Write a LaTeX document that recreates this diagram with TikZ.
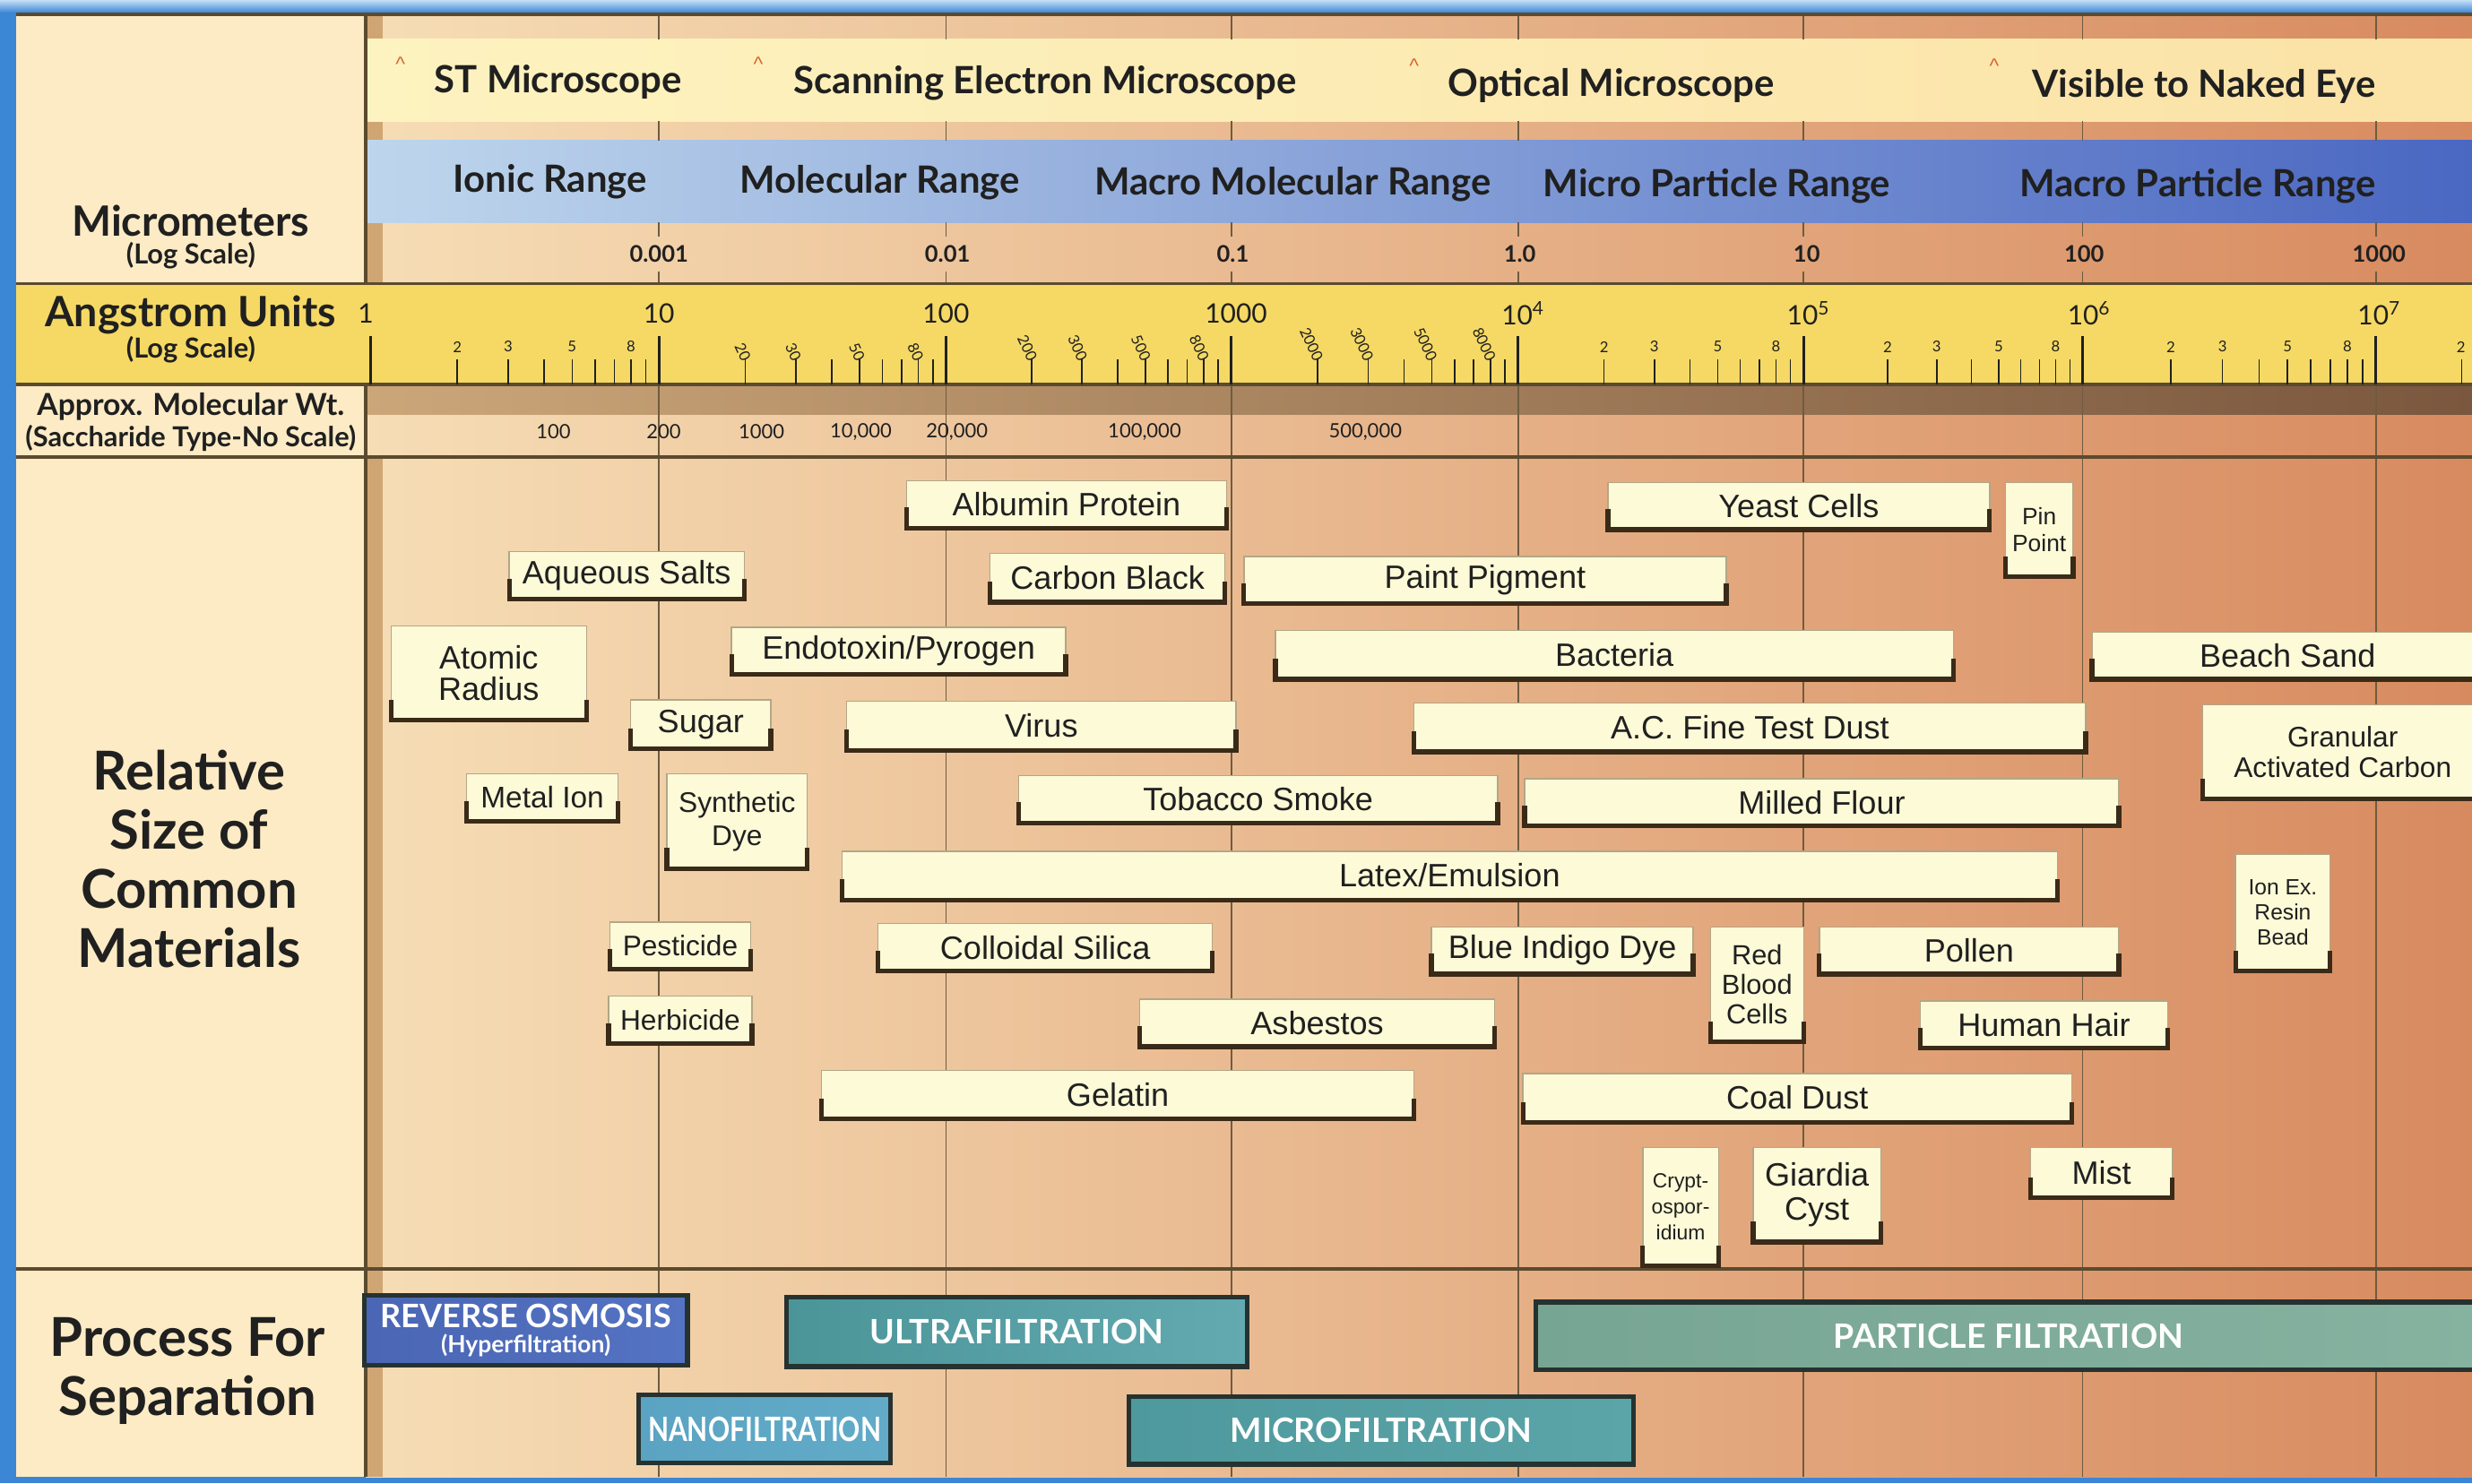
\documentclass[tikz,border=0pt]{standalone}
\usepackage{fontspec}
\usepackage{graphicx}
\setmainfont{Liberation Sans}
\newfontfamily\hf{Lato}
\usetikzlibrary{calc}
\definecolor{frameb}{HTML}{3C86D6}
\definecolor{framelt}{HTML}{C4DFF5}
\definecolor{leftcol}{HTML}{FCEBC5}
\definecolor{bgL}{HTML}{F6DDB5}
\definecolor{bgR}{HTML}{D88A5F}
\definecolor{tanc}{HTML}{CFA673}
\definecolor{micL}{HTML}{FDF3C0}
\definecolor{micR}{HTML}{FBE2A6}
\definecolor{bluL}{HTML}{BED6EC}
\definecolor{bluR}{HTML}{4A67C2}
\definecolor{angY}{HTML}{F5D964}
\definecolor{brL}{HTML}{CBA679}
\definecolor{brR}{HTML}{7A573E}
\definecolor{linec}{HTML}{5B4A2E}
\definecolor{gridc}{HTML}{6E5C40}
\definecolor{boxfill}{HTML}{FCFAD7}
\definecolor{boxedge}{HTML}{B3A686}
\definecolor{boxshadow}{HTML}{3A2A18}
\definecolor{caretc}{HTML}{D9652F}
\definecolor{txt}{HTML}{202020}
\definecolor{procedge}{HTML}{263230}
\definecolor{roL}{HTML}{4A66B4}\definecolor{roR}{HTML}{5473C2}
\definecolor{ufL}{HTML}{4B9498}\definecolor{ufR}{HTML}{62AAB0}
\definecolor{nfL}{HTML}{5AA3C2}\definecolor{nfR}{HTML}{62ABC8}
\definecolor{mfL}{HTML}{4E999D}\definecolor{mfR}{HTML}{5BA5A9}
\definecolor{pfL}{HTML}{77A594}\definecolor{pfR}{HTML}{86B2A0}
\newcommand\fA{\fontsize{20.5}{22}\selectfont}
\newcommand\matb[7]{%
  \node[matnode,font=#6,minimum width={(#4-#2)*1pt},minimum height={(#5-#3)*1pt},anchor=north west] (#1) at (#2,#3) {#7};
  \draw[matshadow] ([yshift=13pt]#1.south west) -- (#1.south west) -- (#1.south east) -- ([yshift=13pt]#1.south east);
}
\begin{document}
\begin{tikzpicture}[x=1pt,y=-1pt,
  matnode/.style={draw=boxedge,line width=0.8pt,fill=boxfill,inner sep=0pt,outer sep=0pt,align=center,text=txt},
  matshadow/.style={draw=boxshadow,line width=3pt},
  grid/.style={draw=gridc,line width=0.9pt},
  hline/.style={draw=linec,line width=2pt},
  majortick/.style={draw=txt,line width=1.6pt},
  minortick/.style={draw=txt,line width=0.9pt},
  lhead/.style={font=\hf\bfseries\fontsize{26.5}{28}\selectfont,text=txt,align=center},
  lsub/.style={font=\hf\bfseries\fontsize{17.5}{18}\selectfont,text=txt},
  bighead/.style={font=\hf\bfseries\fontsize{34}{37.5}\selectfont,text=txt,align=center},
  bandtxt/.style={font=\hf\bfseries\fontsize{23.8}{25}\selectfont,text=txt},
  caret/.style={font=\fontsize{13}{13}\selectfont,text=caretc},
  umlab/.style={font=\hf\bfseries\fontsize{14.5}{15}\selectfont,text=txt},
  declab/.style={font=\hf\fontsize{17}{18}\selectfont,text=txt},
  ticklab/.style={font=\hf\fontsize{9.5}{10}\selectfont,text=txt,inner sep=0.5pt},
  mwlab/.style={font=\hf\fontsize{12.5}{13}\selectfont,text=txt},
  procnode/.style={draw=procedge,line width=3pt,inner sep=0pt,outer sep=0pt,text=white,align=center,anchor=north west,font=\hf\bfseries\fontsize{21.3}{23}\selectfont}]
\useasboundingbox (0,0) rectangle (1568,941);
% frame and backgrounds
\fill[frameb] (0,0) rectangle (1568,941);
\shade[top color=framelt,bottom color=frameb] (0,0) rectangle (1568,8);
\fill[leftcol] (10,9) rectangle (232,937);
\shade[left color=bgL,right color=bgR] (232,9) rectangle (1568,937);
\fill[tanc] (232,9) rectangle (243,180);
\fill[tanc] (232,290) rectangle (243,937);
\shade[left color=micL,right color=micR] (232,25) rectangle (1568,77);
\shade[left color=bluL,right color=bluR] (232,89) rectangle (1568,141);
\fill[angY] (10,180) rectangle (1568,244);
\shade[left color=brL,right color=brR] (232,244) rectangle (1568,263);
% grid lines
\foreach \x in {418,600,781,963,1144,1321,1507} {
  \draw[grid] (\x,9)--(\x,25) (\x,77)--(\x,89) (\x,141)--(\x,150) (\x,172)--(\x,180) (\x,244)--(\x,937);
}
% frame lines
\draw[hline] (10,9) -- (1568,9);
\draw[hline] (10,180) -- (1568,180);
\draw[hline] (10,244) -- (1568,244);
\draw[hline] (10,290) -- (1568,290);
\draw[hline] (10,805) -- (1568,805);
\draw[hline] (232,9) -- (232,180);
\draw[hline] (232,244) -- (232,937);
% left column headings
\node[lhead] (hmicro) at (121,140) {Micrometers};
\node[lsub] (hmicrosub) at (121,162) {(Log Scale)};
\node[lhead] (hang) at (121,200) {Angstrom Units};
\node[lsub] (hangsub) at (121,222) {(Log Scale)};
\node[lsub,font=\hf\bfseries\fontsize{19.2}{20}\selectfont] (hmw) at (121,258) {Approx. Molecular Wt.};
\node[lsub,font=\hf\bfseries\fontsize{17.5}{18}\selectfont] (hmwsub) at (121,278) {(Saccharide Type-No Scale)};
\node[bighead] (hrel) at (120,545) {Relative\\Size of\\Common\\Materials};
\node[bighead] (hproc) at (119,870) {Process For\\Separation};
% microscope band
\node[caret] (c1) at (254,41) {\textasciicircum};
\node[caret] (c2) at (481,41) {\textasciicircum};
\node[caret] (c3) at (897,42) {\textasciicircum};
\node[caret] (c4) at (1265,42) {\textasciicircum};
\node[bandtxt] (st) at (354,52) {ST Microscope};
\node[bandtxt] (sem) at (663,53) {Scanning Electron Microscope};
\node[bandtxt] (opt) at (1022,54) {Optical Microscope};
\node[bandtxt] (vis) at (1398,55) {Visible to Naked Eye};
% range band
\node[bandtxt] (ionic) at (349,115) {Ionic Range};
\node[bandtxt] (molec) at (558,116) {Molecular Range};
\node[bandtxt] (macmol) at (820,117) {Macro Molecular Range};
\node[bandtxt] (micpart) at (1089,118) {Micro Particle Range};
\node[bandtxt] (macpart) at (1394,118) {Macro Particle Range};
% micrometer labels
\foreach \x/\t [count=\i] in {418/0.001,601/0.01,782/0.1,964/1.0,1146/10,1322/100,1509/1000}
  \node[umlab] (um\i) at (\x,161) {\t};
% angstrom scale
\foreach \x in {235,418,600,781,963,1144,1321,1507}
  \draw[majortick] (\x,213) -- (\x,244);
\foreach \b/\w in {235/183,418/182,600/181,781/182,963/181,1144/177,1321/186,1507/181} {
  \foreach \m in {2,...,9} {
    \pgfmathsetmacro\tx{\b+\w*log10(\m)}
    \ifdim\tx pt<1568pt \draw[minortick] (\tx,228) -- (\tx,244);\fi
  }
}
\foreach \b/\w [count=\i] in {235/183,963/181,1144/177,1321/186} {
  \foreach \m in {2,3,5,8} {
    \pgfmathsetmacro\tx{\b+\w*log10(\m)}
    \node[ticklab] (ul\i-\m) at (\tx,220) {\m};
  }
}
\node[ticklab] (ul5-2) at (1561,220) {2};
\foreach \b/\w/\s [count=\i] in {418/182/0,600/181/00,781/182/000} {
  \foreach \m in {2,3,5,8} {
    \pgfmathsetmacro\tx{\b+\w*log10(\m)}
    \node[ticklab,rotate=-65,anchor=east] (rl\i-\m) at (\tx+1,229) {\m\s};
  }
}
\node[declab] (d0) at (232,199) {1};
\node[declab] (d1) at (418,199) {10};
\node[declab] (d2) at (600,199) {100};
\node[declab] (d3) at (784,199) {1000};
\node[declab] (d4) at (966,199) {10\textsuperscript{4}};
\node[declab] (d5) at (1147,199) {10\textsuperscript{5}};
\node[declab] (d6) at (1325,199) {10\textsuperscript{6}};
\node[declab] (d7) at (1509,199) {10\textsuperscript{7}};
% molecular weight labels
\foreach \x/\t [count=\i] in {351/100,421/200,483/1000,546/{10,000},607/{20,000},726/{100,000},866/{500,000}}
  \node[mwlab] (mw\i) at (\x,274) {\t};
% material boxes
\matb{albumin}{575}{305}{778}{335}{\fA}{Albumin Protein}
\matb{aqueous}{323}{350}{472}{380}{\fA}{Aqueous Salts}
\matb{carbon}{628}{351}{777}{382}{\fA}{Carbon Black}
\matb{paint}{789}{353}{1095}{383}{\fA}{Paint Pigment}
\matb{yeast}{1020}{306}{1262}{336}{\fA}{Yeast Cells}
\matb{pin}{1272}{306}{1315}{366}{\fontsize{15}{17}\selectfont}{Pin\\Point}
\matb{atomic}{248}{397}{372}{457}{\fontsize{20.5}{20}\selectfont}{Atomic\\Radius}
\matb{endo}{464}{398}{676}{428}{\fA}{Endotoxin/Pyrogen}
\matb{bact}{809}{400}{1239}{431}{\fA}{Bacteria}
\matb{beach}{1327}{401}{1575}{431}{\fA}{Beach Sand}
\matb{sugar}{400}{444}{489}{475}{\fA}{Sugar}
\matb{virus}{537}{445}{784}{476}{\fA}{Virus}
\matb{acdust}{897}{446}{1323}{477}{\fA}{A.C. Fine Test Dust}
\matb{gac}{1397}{447}{1575}{507}{\fontsize{18}{19}\selectfont}{Granular\\Activated Carbon}
\matb{metal}{296}{491}{392}{521}{\fontsize{19}{20}\selectfont}{Metal Ion}
\matb{synth}{423}{491}{512}{551}{\fontsize{18}{21}\selectfont}{Synthetic\\Dye}
\matb{tobacco}{646}{492}{950}{522}{\fA}{Tobacco Smoke}
\matb{flour}{967}{494}{1344}{524}{\fA}{Milled Flour}
\matb{latex}{534}{540}{1305}{571}{\fA}{Latex/Emulsion}
\matb{ionex}{1418}{542}{1478}{616}{\fontsize{14}{16}\selectfont}{Ion Ex.\\Resin\\Bead}
\matb{pest}{387}{585}{476}{615}{\fontsize{18}{20}\selectfont}{Pesticide}
\matb{silica}{557}{586}{769}{616}{\fA}{Colloidal Silica}
\matb{indigo}{908}{588}{1074}{618}{\fA}{Blue Indigo Dye}
\matb{rbc}{1085}{588}{1144}{661}{\fontsize{17.5}{18.5}\selectfont}{Red\\Blood\\Cells}
\matb{pollen}{1154}{588}{1344}{618}{\fA}{Pollen}
\matb{herb}{386}{632}{477}{662}{\fontsize{18}{20}\selectfont}{Herbicide}
\matb{asbestos}{723}{634}{948}{664}{\fA}{Asbestos}
\matb{hair}{1218}{635}{1375}{665}{\fA}{Human Hair}
\matb{gelatin}{521}{679}{897}{710}{\fA}{Gelatin}
\matb{coal}{966}{681}{1314}{712}{\fA}{Coal Dust}
\matb{crypt}{1042}{728}{1090}{803}{\fontsize{13}{16.5}\selectfont}{Crypt-\\ospor-\\idium}
\matb{giardia}{1112}{728}{1193}{788}{\fontsize{20.5}{22}\selectfont}{Giardia\\Cyst}
\matb{mist}{1288}{728}{1378}{760}{\fA}{Mist}
% process boxes
\node[procnode,left color=roL,right color=roR,minimum width=205pt,minimum height=44pt] (ro) at (231,822)
  {\fontsize{20.5}{21}\selectfont REVERSE OSMOSIS\\[-7pt]{\fontsize{15}{15}\selectfont(Hyperfiltration)}};
\node[procnode,left color=ufL,right color=ufR,minimum width=292pt,minimum height=44pt] (uf) at (499,823) {ULTRAFILTRATION};
\node[procnode,left color=pfL,right color=pfR,minimum width=600pt,minimum height=43pt] (pf) at (974,826) {PARTICLE FILTRATION};
\node[procnode,left color=nfL,right color=nfR,minimum width=160pt,minimum height=43pt] (nf) at (405,885) {\scalebox{0.8}[1]{NANOFILTRATION}};
\node[procnode,left color=mfL,right color=mfR,minimum width=320pt,minimum height=43pt] (mf) at (716,886) {MICROFILTRATION};
\end{tikzpicture}
\end{document}
